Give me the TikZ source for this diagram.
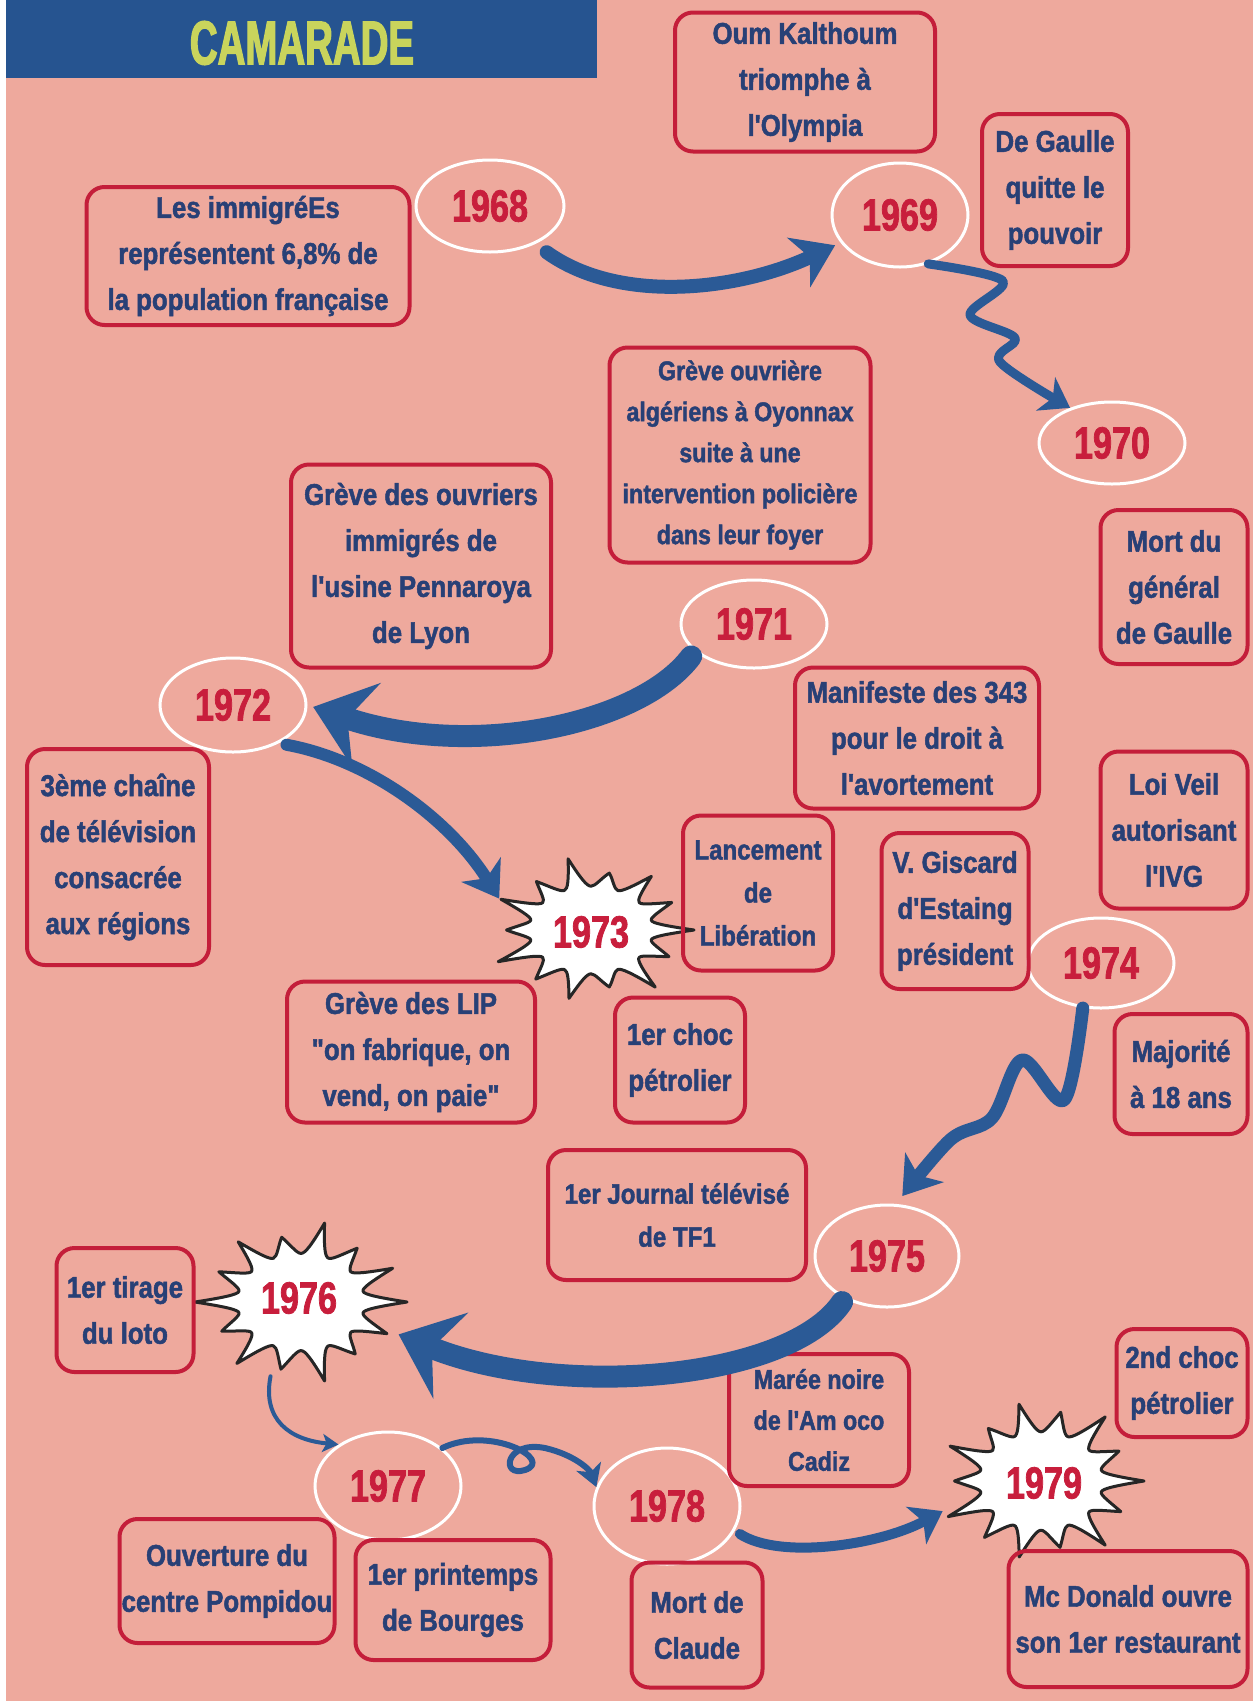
\documentclass[tikz,border=0pt]{standalone}
\usepackage{fontspec}
\usetikzlibrary{arrows.meta,shapes.geometric}
\newfontfamily\boxfont{Liberation Sans}[FakeStretch=0.86,FakeBold=1.6]
\newfontfamily\yearfont{Liberation Sans}[FakeStretch=0.76,FakeBold=1.6]
\newfontfamily\titlefont{Liberation Sans}[FakeStretch=0.62,FakeBold=2]
\definecolor{bgpink}{RGB}{238,169,157}
\definecolor{headblue}{RGB}{38,84,144}
\definecolor{titlegreen}{RGB}{201,212,92}
\definecolor{boxred}{RGB}{196,30,58}
\definecolor{navy}{RGB}{40,64,118}
\definecolor{yearred}{RGB}{200,30,60}
\definecolor{arrowblue}{RGB}{43,90,150}
\newcommand\drawburst[5]{%
  \begin{scope}[shift={(#1,#2)},xscale=#3,yscale=#4]
    \draw[burstline] (0:1) \foreach \i/\f in {#5} {
      .. controls ({(\i-0.82)*360/14}:0.72) and ({(\i-0.65)*360/14}:0.6) .. ({(\i-0.5)*360/14}:0.6)
      .. controls ({(\i-0.35)*360/14}:0.6) and ({(\i-0.18)*360/14}:0.72) .. ({\i*360/14}:\f)
    } -- cycle;
  \end{scope}}
\begin{document}
\begin{tikzpicture}[x=1pt,y=-1pt,
  evt/.style={draw=boxred, line width=4pt, rounded corners=18pt, text=navy,
    font=\boxfont\bfseries\fontsize{30}{46}\selectfont, align=center, inner sep=0pt},
  smallevt/.style={font=\boxfont\bfseries\fontsize{27}{41}\selectfont},
  midevt/.style={font=\boxfont\bfseries\fontsize{28}{43}\selectfont},
  wh/.style 2 args={minimum width=#1pt, minimum height=#2pt},
  yr/.style={ellipse, draw=white, line width=3pt, text=yearred,
    font=\yearfont\bfseries\fontsize{45}{45}\selectfont, inner sep=0pt},
  burstlbl/.style={ellipse, inner sep=0pt, text=yearred,
    font=\yearfont\bfseries\fontsize{45}{45}\selectfont},
  burstline/.style={fill=white, draw=black!85, line width=3pt, line join=round},
  flow/.style={draw=arrowblue, line cap=round, line join=round},
  title/.style={text=titlegreen, font=\titlefont\bfseries\fontsize{62}{62}\selectfont, inner sep=0pt}
]
\useasboundingbox (0,0) rectangle (1253,1701);
\fill[white] (0,0) rectangle (1253,1701);
\fill[bgpink] (6,0) rectangle (1253,1701);
\fill[headblue] (6,0) rectangle (597,78);
\node[title] (title) at (302,43) {CAMARADE};

% starbursts
\drawburst{591}{930}{103}{73}{1/0.84,2/1.0,3/0.8,4/0.96,5/0.86,6/1.0,7/0.82,8/0.97,9/0.85,10/1.0,11/0.8,12/0.94,13/0.87,14/1.0}
\drawburst{301}{1302}{106}{81}{1/0.9,2/0.82,3/1.0,4/0.85,5/0.97,6/0.83,7/1.0,8/0.86,9/0.95,10/0.82,11/1.0,12/0.85,13/0.96,14/1.0}
\drawburst{1041}{1481}{103}{82}{1/0.86,2/1.0,3/0.83,4/0.95,5/0.88,6/1.0,7/0.84,8/0.98,9/0.82,10/0.96,11/0.86,12/1.0,13/0.84,14/1.0}

% years
\node[yr, wh={148}{92}]  (y1968) at (490,206)  {1968};
\node[yr, wh={136}{104}] (y1969) at (900,215)  {1969};
\node[yr, wh={146}{82}]  (y1970) at (1112,443) {1970};
\node[yr, wh={146}{88}]  (y1971) at (754,624)  {1971};
\node[yr, wh={146}{94}]  (y1972) at (233,705)  {1972};
\node[burstlbl, wh={206}{146}] (b1973) at (591,932) {1973};
\node[yr, wh={146}{90}]  (y1974) at (1101,963) {1974};
\node[yr, wh={144}{102}] (y1975) at (887,1256) {1975};
\node[burstlbl, wh={212}{162}] (b1976) at (299,1298) {1976};
\node[yr, wh={146}{108}] (y1977) at (388,1486) {1977};
\node[yr, wh={146}{116}] (y1978) at (667,1506) {1978};
\node[burstlbl, wh={206}{164}] (b1979) at (1044,1483) {1979};

% events
\node[evt, wh={323}{138}] (imm) at (248,256) {Les immigréEs\\représentent 6,8\% de\\la population française};
\node[evt, wh={260}{139}] (oum) at (805,82) {Oum Kalthoum\\triomphe à\\l'Olympia};
\node[evt, wh={146}{152}] (dg) at (1055,190) {De Gaulle\\quitte le\\pouvoir};
\node[evt, wh={147}{154}] (mort) at (1174,587) {Mort du\\général\\de Gaulle};
\node[evt, smallevt, wh={261}{215}] (oyo) at (740,455) {Grève ouvrière\\algériens à Oyonnax\\suite à une\\intervention policière\\dans leur foyer};
\node[evt, wh={260}{203}] (penn) at (421,566) {Grève des ouvriers\\immigrés de\\l'usine Pennaroya\\de Lyon};
\node[evt, wh={244}{141}] (mani) at (917,738) {Manifeste des 343\\pour le droit à\\l'avortement};
\node[evt, wh={147}{157}] (veil) at (1174,830) {Loi Veil\\autorisant\\l'IVG};
\node[evt, wh={182}{216}] (tele) at (118,857) {3ème chaîne\\de télévision\\consacrée\\aux régions};
\node[evt, midevt, wh={150}{155}] (lib) at (758,893) {Lancement\\de\\Libération};
\node[evt, wh={147}{156}] (gisc) at (955,911) {V. Giscard\\d'Estaing\\président};
\node[evt, wh={248}{141}] (lip) at (411,1052) {Grève des LIP\\"on fabrique, on\\vend, on paie"};
\node[evt, wh={130}{125}] (chocA) at (680,1060) {1er choc\\pétrolier};
\node[evt, wh={133}{120}] (maj) at (1181,1074) {Majorité\\à 18 ans};
\node[evt, midevt, wh={258}{130}] (tf) at (677,1215) {1er Journal télévisé\\de TF1};
\node[evt, wh={137}{124}] (loto) at (125,1310) {1er tirage\\du loto};
\node[evt, smallevt, wh={180}{132}] (amoco) at (819,1420) {Marée noire\\de l'Am oco\\Cadiz};
\node[evt, wh={131}{108}] (chocB) at (1182,1383) {2nd choc\\pétrolier};
\node[evt, wh={215}{124}] (pomp) at (227,1581) {Ouverture du\\centre Pompidou};
\node[evt, wh={195}{120}] (bourg) at (453,1600) {1er printemps\\de Bourges};
\node[evt, wh={131}{125}] (claude) at (697,1625) {Mort de\\Claude};
\node[evt, wh={239}{136}] (mcdo) at (1128,1619) {Mc Donald ouvre\\son 1er restaurant};

% connectors
\draw[flow, line width=14pt, -{Stealth[length=40pt,width=54pt,inset=12pt]}, shorten <=14pt, shorten >=6pt]
  (y1968.-40) .. controls (620,305) and (740,290) .. (y1969.205);
\draw[flow, line width=9pt, -{Stealth[length=28pt,width=38pt,inset=8pt]}]
  plot[smooth, tension=0.55] coordinates {(y1969.-60) (1003,281) (970,315) (1015,338) (1000,362) (y1970.140)};
\draw[flow, line width=22pt, -{Stealth[length=56pt,width=88pt,inset=20pt]}, shorten <=6pt, shorten >=6pt]
  (y1971.205) .. controls (640,725) and (470,760) .. (y1972.east);
\draw[flow, line width=12pt, -{Stealth[length=34pt,width=46pt,inset=10pt]}, shorten <=8pt]
  (y1972.-40) .. controls (370,760) and (450,820) .. (b1973.160);
\draw[flow, line width=13pt, -{Stealth[length=36pt,width=48pt,inset=10pt]}, shorten >=10pt]
  plot[smooth, tension=0.55] coordinates {(y1974.-112) (1064,1100) (1022,1060) (992,1118) (950,1140) (y1975.80)};
\draw[flow, line width=22pt, -{Stealth[length=56pt,width=92pt,inset=20pt]}, shorten <=4pt, shorten >=4pt]
  (y1975.225) .. controls (790,1380) and (560,1400) .. (b1976.-20);
\draw[flow, line width=4pt, -{Stealth[length=16pt,width=18pt,inset=4pt]}]
  (b1976.-110) .. controls (262,1420) and (290,1440) .. (y1977.140);
\draw[flow, line width=6pt, -{Stealth[length=22pt,width=26pt,inset=6pt]}]
  (y1977.35) .. controls (490,1425) and (555,1460) .. (525,1470)
  .. controls (500,1478) and (505,1440) .. (545,1448)
  .. controls (575,1455) and (590,1470) .. (y1978.165);
\draw[flow, line width=10pt, -{Stealth[length=30pt,width=42pt,inset=8pt]}, shorten <=6pt, shorten >=4pt]
  (y1978.-20) .. controls (780,1560) and (880,1545) .. (b1979.195);
\end{tikzpicture}
\end{document}
